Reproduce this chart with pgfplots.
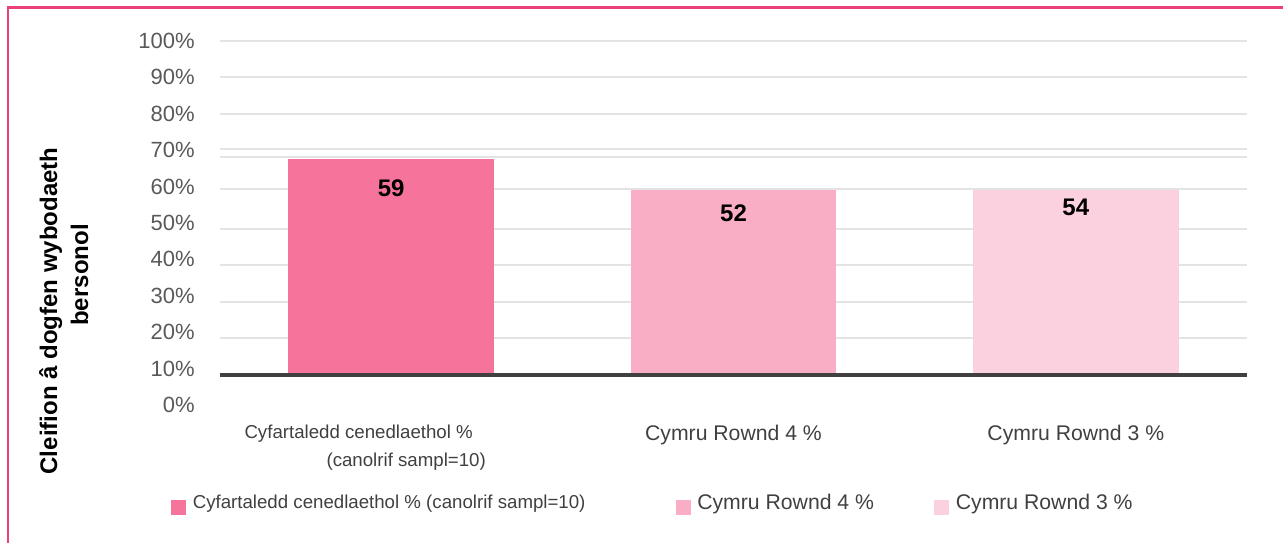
\documentclass[border=0pt]{standalone}
\usepackage{fontspec}
\setmainfont{Liberation Sans}
\usepackage{pgfplots}
\pgfplotsset{compat=1.18}
\definecolor{barA}{HTML}{F6739B}
\definecolor{barB}{HTML}{F9AEC6}
\definecolor{barC}{HTML}{FBD0DF}
\definecolor{framec}{HTML}{EC407A}
\definecolor{gridc}{HTML}{E3E3E3}
\definecolor{basec}{HTML}{404040}
\definecolor{tickc}{HTML}{595959}
\definecolor{catc}{HTML}{404040}
\pgfplotsset{
  baseaxis/.style={
    scale only axis, width=770.25pt, height=273pt,
    at={(165pt,103.5pt)}, anchor=south west,
    xmin=-0.5, xmax=2.5, ymin=0, ymax=100,
    axis line style={draw=none}, major tick length=0pt,
  }
}
\begin{document}
\begin{tikzpicture}
\useasboundingbox (0,0) rectangle (962.25pt,407.25pt);
\draw[line width=1.6pt, color=framec] (6pt,-5pt) -- (6pt,401.6pt) -- (975pt,401.6pt);
\begin{axis}[baseaxis, ybar stacked, bar width=0.6,
  ytick={0,10,...,100},
  yticklabels={0\%,10\%,20\%,30\%,40\%,50\%,60\%,70\%,80\%,90\%,100\%},
  yticklabel style={font=\fontsize{16.5}{19}\selectfont, text=tickc, anchor=east, inner sep=0pt, xshift=-18.75pt},
  ymajorgrids=false,
  extra y ticks={18.4,28.3,38.5,48.4,59.3,68.1,70.3,79.9,90.1,100},
  extra y tick labels={},
  extra y tick style={grid=major, major grid style={color=gridc, line width=1.5pt}},
  xtick={0,1,2},
  xticklabels={
    {Cyfartaledd cenedlaethol \%\rule{48.75pt}{0pt}\\(canolrif sampl=10)\rule{39pt}{0pt}},
    {\fontsize{15.9}{19}\selectfont Cymru Rownd 4 \%},
    {\fontsize{15.9}{19}\selectfont Cymru Rownd 3 \%}},
  xticklabel style={inner sep=0pt, anchor=north, yshift=-15pt, text=catc, align=right,
    font=\fontsize{14}{21}\selectfont},
  legend columns=3,
  legend cell align=left,
  legend image code/.code={\path[#1] (0pt,-9.4pt) rectangle (11.25pt,1.9pt);},
  legend style={draw=none, fill=none, at={(-0.0477,-0.274)}, anchor=west, inner sep=0pt,
    nodes={inner sep=0pt, text=catc},
    /tikz/column sep=0pt,
    /tikz/every odd column/.append style={column sep=4.9pt}},
]
\addplot[draw=none, fill=none, forget plot] coordinates {(0,8.2) (1,8.2) (2,8.2)};
\addplot[fill=barA, draw=none] coordinates {(0,59.4) (1,0) (2,0)};
\addlegendentry{\fontsize{14}{17}\selectfont Cyfartaledd cenedlaethol \% (canolrif sampl=10)\rule{67.7pt}{0pt}}
\addplot[fill=barB, draw=none] coordinates {(0,0) (1,50.9) (2,0)};
\addlegendentry{\fontsize{15.9}{19}\selectfont Cymru Rownd 4 \%\rule{45.2pt}{0pt}}
\addplot[fill=barC, draw=none] coordinates {(0,0) (1,0) (2,50.9)};
\addlegendentry{\fontsize{15.9}{19}\selectfont Cymru Rownd 3 \%}
\end{axis}
\begin{axis}[baseaxis, hide axis]
\addplot[line width=3pt, color=basec, forget plot] coordinates {(-0.5,8.2) (2.5,8.2)};
\addplot[draw=none, mark=none, forget plot,
  nodes near coords, point meta=explicit symbolic,
  nodes near coords style={anchor=center, font=\fontsize{18}{20}\selectfont\bfseries, text=black, inner sep=0pt}]
  table[meta=lab] {
x y lab
0 59.6 59
1 52.7 52
2 54.4 54
};
\end{axis}
\node[rotate=90, anchor=base, font=\fontsize{18}{22}\selectfont\bfseries] at (42.75pt,174pt) {Cleifion â dogfen wybodaeth};
\node[rotate=90, anchor=base, font=\fontsize{18}{22}\selectfont\bfseries] at (66pt,201pt) {bersonol};
\end{tikzpicture}
\end{document}
